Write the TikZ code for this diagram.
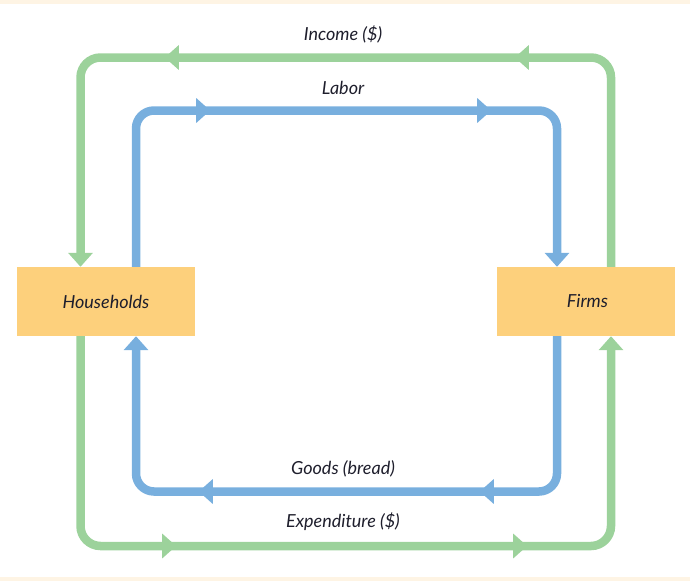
\documentclass[tikz,border=0pt]{standalone}
\usepackage{fontspec}
\setmainfont{Lato}
\usetikzlibrary{arrows.meta,decorations.markings}
\definecolor{flowgreen}{HTML}{9CD29B}
\definecolor{flowblue}{HTML}{78AFDE}
\definecolor{boxorange}{HTML}{FDD07C}
\definecolor{creamstrip}{HTML}{FEF4E4}
\definecolor{inkc}{HTML}{1E1E2C}
\begin{document}
\begin{tikzpicture}[x=1pt,y=-1pt,
  >={Triangle[length=14pt,width=24pt]},
  sector/.style={fill=boxorange, draw=none, minimum width=178pt, minimum height=69pt, inner sep=0pt,
    font=\fontsize{18}{21}\selectfont\itshape, text=inkc},
  flowlabel/.style={font=\fontsize{18}{21}\selectfont\itshape, text=inkc, anchor=base, inner sep=0pt},
  greenflow/.style={draw=flowgreen, line width=8.5pt, rounded corners=20pt},
  blueflow/.style={draw=flowblue, line width=8.5pt, rounded corners=18pt},
  midtips/.style 2 args={postaction={decorate, decoration={markings,
    mark=at position #1 with {\arrow{>}},
    mark=at position #2 with {\arrow{>}}}}}
]
\useasboundingbox (0,0) rectangle (690,581);
\fill[creamstrip] (0,0) rectangle (690,4);
\fill[creamstrip] (0,577) rectangle (690,581);

\node[sector] (households) at (106,301.5) {Households};
\node[sector] (firms) at (586,301.5) {\hspace*{3pt}Firms};

\coordinate (gTL) at (80.5,57.5);
\coordinate (gTR) at (611,57.5);
\coordinate (gBL) at (80.5,546);
\coordinate (gBR) at (611,546);
\coordinate (bTL) at (136,110.5);
\coordinate (bTR) at (557,110.5);
\coordinate (bBL) at (136,491.5);
\coordinate (bBR) at (557,491.5);

% Income ($)
\draw[greenflow, ->, midtips={296.9pt}{646.9pt}]
  (firms.north -| gTR) -- (gTR) -- (gTL) -- (households.north -| gTL);
% Labor
\draw[blueflow, ->, midtips={222.8pt}{503.8pt}]
  (households.north -| bTL) -- (bTL) -- (bTR) -- (firms.north -| bTR);
% Goods (bread)
\draw[blueflow, ->, midtips={224.8pt}{505.8pt}]
  (firms.south -| bBR) -- (bBR) -- (bBL) -- (households.south -| bBL);
% Expenditure ($)
\draw[greenflow, ->, midtips={296.9pt}{647.9pt}]
  (households.south -| gBL) -- (gBL) -- (gBR) -- (firms.south -| gBR);

\node[flowlabel] (income) at (343,40) {Income (\$)};
\node[flowlabel] (labor) at (343,94) {Labor};
\node[flowlabel] (goods) at (343,474) {Goods (bread)};
\node[flowlabel] (expenditure) at (343,527) {Expenditure (\$)};
\end{tikzpicture}
\end{document}
